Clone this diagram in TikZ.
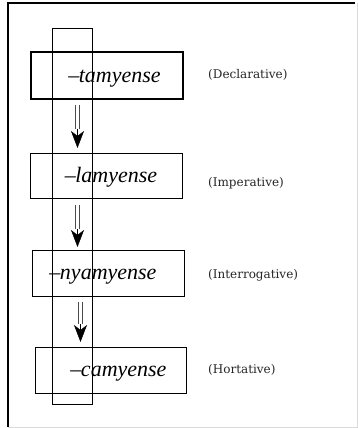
\documentclass[tikz,border=0pt]{standalone}
\usepackage{fontspec}
\setmainfont{Liberation Serif}
\newfontfamily\labfont{DejaVu Serif}
\usetikzlibrary{arrows.meta}
\begin{document}
\begin{tikzpicture}[x=1pt,y=1pt,
  box/.style={draw=black, line width=0.9pt, inner sep=0pt, anchor=south west},
  thickbox/.style={box, line width=1.8pt},
  form/.style={inner sep=0pt, anchor=base, font=\fontsize{22}{24}\selectfont\itshape},
  lab/.style={inner sep=0pt, anchor=base west, text=black!85, font=\labfont\fontsize{12}{14}\selectfont},
  shaft/.style={draw=black!70, line width=1pt, double=white, double distance=2.4pt},
  head/.style={line width=0.4pt, -{Stealth[length=17pt,width=13pt,inset=5pt]}}]
\useasboundingbox (0,0) rectangle (358,428);
\fill[white] (0,0) rectangle (358,428);
% outer frame
\draw[black!15, line width=0.8pt] (357,425) -- (357,1) -- (8,1);
\draw[black, line width=1.3pt] (8,1) -- (8,425) -- (355,425);
% boxes
\node[thickbox, minimum width=152pt, minimum height=47pt] (b1) at (30,328) {};
\node[box, minimum width=152pt, minimum height=45pt] (b2) at (30,229) {};
\node[box, minimum width=152pt, minimum height=46pt] (b3) at (32,131) {};
\node[box, minimum width=151pt, minimum height=46pt] (b4) at (35,34) {};
% tall rectangle
\node[box, minimum width=40pt, minimum height=376pt] (tall) at (52,23) {};
% forms
\node[form] (f1) at (114.5,345) {\upshape\char"2013\kern-0.5pt\itshape tamyense};
\node[form] (f2) at (111,245) {\upshape\char"2013\kern-0.5pt\itshape lamyense};
\node[form] (f3) at (103,148) {\upshape\char"2013\kern-0.5pt\itshape nyamyense};
\node[form] (f4) at (118.5,51) {\upshape\char"2013\kern-0.5pt\itshape camyense};
% labels
\node[lab] (l1) at (208,349) {(Declarative)};
\node[lab] (l2) at (208,241) {(Imperative)};
\node[lab] (l3) at (208,149) {(Interrogative)};
\node[lab] (l4) at (208,54) {(Hortative)};
% arrows
\coordinate (a1s) at (77.5,323); \coordinate (a1h) at (77.5,299); \coordinate (a1e) at (77.5,280);
\coordinate (a2s) at (77.5,223); \coordinate (a2h) at (77.5,199); \coordinate (a2e) at (77.5,181);
\coordinate (a3s) at (80.5,126); \coordinate (a3h) at (80.5,104); \coordinate (a3e) at (80.5,86);
\draw[shaft] (a1s) -- (a1h); \draw[head] (a1h) -- (a1e);
\draw[shaft] (a2s) -- (a2h); \draw[head] (a2h) -- (a2e);
\draw[shaft] (a3s) -- (a3h); \draw[head] (a3h) -- (a3e);
\end{tikzpicture}
\end{document}
